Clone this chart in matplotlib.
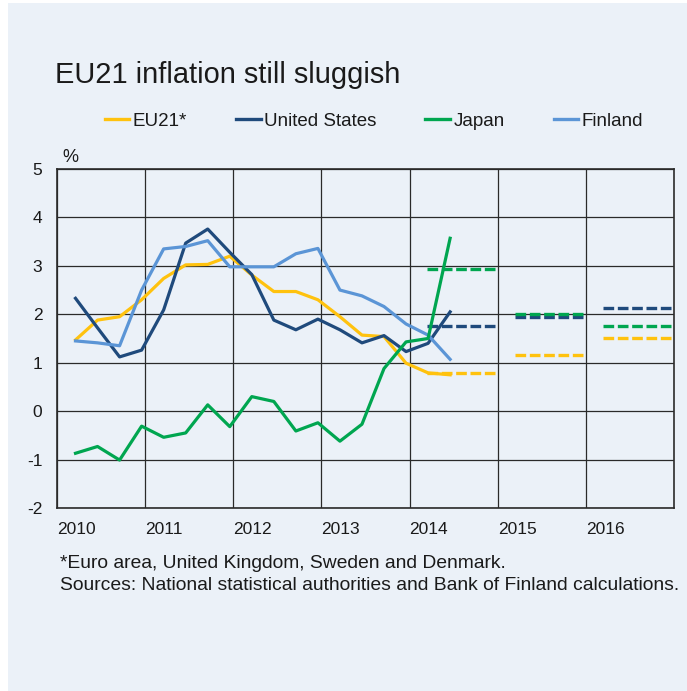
import matplotlib
matplotlib.use("Agg")
import matplotlib.pyplot as plt
from matplotlib.lines import Line2D
import numpy as np

plt.rcParams['font.family'] = ['Liberation Sans', 'DejaVu Sans']

# quarterly data 2010Q1 .. 2014Q2
eu21 = [1.47, 1.88, 1.95, 2.30, 2.74, 3.02, 3.03, 3.20, 2.81, 2.47, 2.47, 2.30,
        1.95, 1.57, 1.54, 0.99, 0.79, 0.75]
united_states = [2.33, 1.72, 1.12, 1.26, 2.09, 3.47, 3.76, 3.28, 2.82, 1.88, 1.68, 1.90,
                 1.68, 1.41, 1.56, 1.23, 1.40, 2.05]
japan = [-0.87, -0.73, -1.01, -0.31, -0.54, -0.45, 0.13, -0.32, 0.30, 0.20, -0.41, -0.24,
         -0.62, -0.27, 0.88, 1.43, 1.50, 3.57]
finland = [1.45, 1.41, 1.35, 2.50, 3.35, 3.40, 3.52, 2.98, 2.98, 2.98, 3.25, 3.36,
           2.50, 2.38, 2.16, 1.80, 1.57, 1.07]

# forecasts (annual)
forecast_years = [2014, 2015, 2016]
eu21_fc = [0.78, 1.16, 1.52]
us_fc = [1.76, 1.94, 2.12]
japan_fc = [2.94, 2.00, 1.75]

years = [2010, 2011, 2012, 2013, 2014, 2015, 2016]

c_eu = '#FFC20E'
c_us = '#1F4A7C'
c_jp = '#00A650'
c_fi = '#5B95D6'
bg = '#EBF1F8'

x = 2010.21 + 0.25 * np.arange(len(eu21))

fig = plt.figure(figsize=(6.87, 6.91), dpi=100)
fig.patch.set_facecolor('white')
fig.patches.append(plt.Rectangle((8 / 687, 0), 1, 1 - 3 / 691, transform=fig.transFigure,
                                 facecolor=bg, edgecolor='none', zorder=-10))

ax = fig.add_axes([57 / 687, 1 - 508 / 691, (674 - 57) / 687, (508 - 169) / 691])
ax.set_facecolor(bg)

lw = 2.3
ax.plot(x, eu21, color=c_eu, lw=lw, zorder=3)
ax.plot(x, united_states, color=c_us, lw=lw, zorder=4)
ax.plot(x, finland, color=c_fi, lw=lw, zorder=5)
ax.plot(x, japan, color=c_jp, lw=lw, zorder=6)

for vals, col in [(eu21_fc, c_eu), (us_fc, c_us), (japan_fc, c_jp)]:
    for yr, v in zip(forecast_years, vals):
        ax.plot([yr + 0.2, yr + 0.97], [v, v], color=col, lw=2.4,
                dashes=(3.2, 1.1), zorder=3)

ax.set_xlim(2010, 2017)
ax.set_ylim(-2, 5)
ax.set_xticks(years)
ax.set_xticklabels([str(y) for y in years], ha='left')
ax.set_yticks(range(-2, 6))
ax.set_yticklabels([str(v) for v in range(-2, 6)])
ax.grid(True, color='#2a2a2a', lw=0.9)
ax.set_axisbelow(True)
for s in ax.spines.values():
    s.set_color('#2a2a2a')
    s.set_linewidth(1.2)
ax.tick_params(length=0, labelsize=12.5, colors='#1a1a1a')
ax.tick_params(axis='x', pad=10)
ax.tick_params(axis='y', pad=10.5)

fig.text(62 / 687, 1 - 157 / 691, '%', fontsize=13, ha='left', va='center', color='#1a1a1a')
fig.text(55 / 687, 1 - 75 / 691, 'EU21 inflation still sluggish', fontsize=20.9,
         ha='left', va='center', color='#1a1a1a')

handles = [Line2D([], [], color=c, lw=2.4) for c in (c_eu, c_us, c_jp, c_fi)]
fig.legend(handles, ['EU21*', 'United States', 'Japan', 'Finland'], ncol=4,
           loc='center', bbox_to_anchor=(374 / 687, 1 - 121 / 691), frameon=False,
           fontsize=13.5, handlelength=1.3, handletextpad=0.2, columnspacing=2.6,
           labelcolor='#1a1a1a')

fig.text(60 / 687, 1 - 563 / 691, '*Euro area, United Kingdom, Sweden and Denmark.',
         fontsize=13.9, ha='left', va='center', color='#1a1a1a')
fig.text(60 / 687, 1 - 586 / 691,
         'Sources: National statistical authorities and Bank of Finland calculations.',
         fontsize=13.9, ha='left', va='center', color='#1a1a1a')

fig.savefig('out.png', dpi=100, facecolor=fig.get_facecolor())
